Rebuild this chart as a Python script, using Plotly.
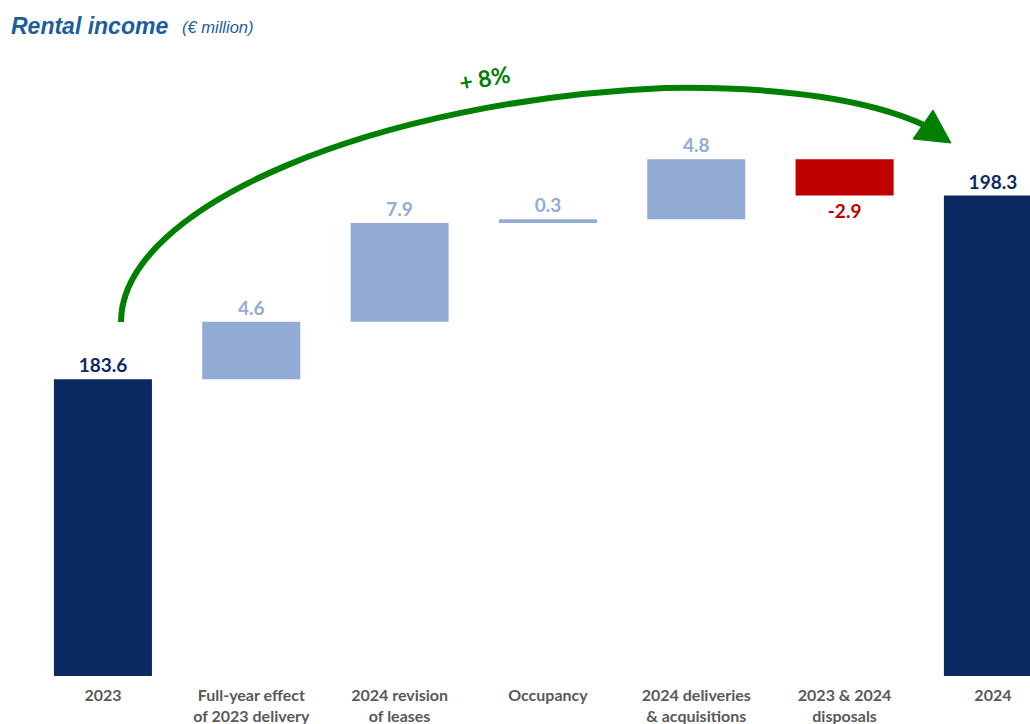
import plotly.graph_objects as go

# Rental income bridge, € million
categories = [
    "2023",
    "Full-year effect<br>of 2023 delivery",
    "2024 revision<br>of leases",
    "Occupancy",
    "2024 deliveries<br>& acquisitions",
    "2023 & 2024<br>disposals",
    "2024",
]
start_value = 183.6
changes = [4.6, 7.9, 0.3, 4.8, -2.9]
end_value = round(start_value + sum(changes), 1)  # 198.3

values = [start_value] + changes + [end_value]
measures = ["absolute"] + ["relative"] * len(changes) + ["total"]
growth_label = "+ 8%"

NAVY = "#0B2A61"
LIGHT = "#92ACD5"
RED = "#C00000"
GREEN = "#008000"
GREY = "#595959"

W, H = 1030, 724
MT, MB = 0, 48
PLOT_H = H - MT - MB
Y_MIN, Y_MAX = 159.86, 213.94
X_MIN, X_MAX = -0.694, 6.25

labels = [f"{v:.1f}" for v in values]
label_colors = [NAVY] + [RED if c < 0 else LIGHT for c in changes] + [NAVY]

fig = go.Figure(
    go.Waterfall(
        x=categories,
        y=[end_value if m == "total" else v for v, m in zip(values, measures)],
        measure=measures,
        width=0.661,
        text=labels,
        textinfo="text",
        textposition="outside",
        textfont=dict(family="Lato", size=19, color=label_colors, weight="bold"),
        increasing=dict(marker=dict(color=LIGHT, line=dict(width=0))),
        decreasing=dict(marker=dict(color=RED, line=dict(width=0))),
        totals=dict(marker=dict(color=NAVY, line=dict(width=0))),
        connector=dict(visible=False),
        cliponaxis=False,
        hoverinfo="skip",
    )
)


def px(x, y):
    """Window pixel position -> paper coordinates."""
    return x / W, 1 - (y - MT) / PLOT_H


def pt(x, y):
    a, b = px(x, y)
    return f"{a:.5f},{b:.5f}"


# growth arc from the 2023 bar towards the 2024 bar
arc = (
    f"M {pt(121, 322)} C {pt(121, 205)} {pt(380, 100)} {pt(665, 88)} "
    f"C {pt(785, 86)} {pt(872, 101)} {pt(924, 125)}"
)
head = f"M {pt(951, 143)} L {pt(933, 110)} L {pt(913, 139)} Z"

fig.add_shape(type="path", path=arc, xref="paper", yref="paper",
              line=dict(color=GREEN, width=6), layer="above")
fig.add_shape(type="path", path=head, xref="paper", yref="paper",
              line=dict(color=GREEN, width=1), fillcolor=GREEN, layer="above")

ax, ay = px(484, 78)
fig.add_annotation(text=f"<b>{growth_label}</b>", x=ax, y=ay, xref="paper", yref="paper",
                   xanchor="center", yanchor="middle", showarrow=False, textangle=-10,
                   font=dict(family="Lato", size=23, color=GREEN))

tx, ty = px(9, 26)
fig.add_annotation(text="<b><i>Rental income</i></b>", x=tx, y=ty, xref="paper", yref="paper",
                   xanchor="left", yanchor="middle", showarrow=False,
                   font=dict(family="Liberation Sans", size=23, color="#1B5E9B"))
sx, sy = px(180, 27)
fig.add_annotation(text="<i>(€ million)</i>", x=sx, y=sy, xref="paper", yref="paper",
                   xanchor="left", yanchor="middle", showarrow=False,
                   font=dict(family="Liberation Sans", size=16.5, color="#1B5E9B"))

fig.update_layout(
    width=W,
    height=H,
    margin=dict(l=0, r=0, t=MT, b=MB, pad=0),
    paper_bgcolor="white",
    plot_bgcolor="white",
    showlegend=False,
    xaxis=dict(
        range=[X_MIN, X_MAX],
        showgrid=False,
        zeroline=False,
        showline=False,
        ticks="",
        ticklabelstandoff=8,
        tickfont=dict(family="Lato", size=16, color=GREY, weight="bold"),
        fixedrange=True,
    ),
    yaxis=dict(
        range=[Y_MIN, Y_MAX],
        visible=False,
        showgrid=False,
        zeroline=False,
        fixedrange=True,
    ),
)

fig.write_html("out.html", config=dict(displayModeBar=False))
